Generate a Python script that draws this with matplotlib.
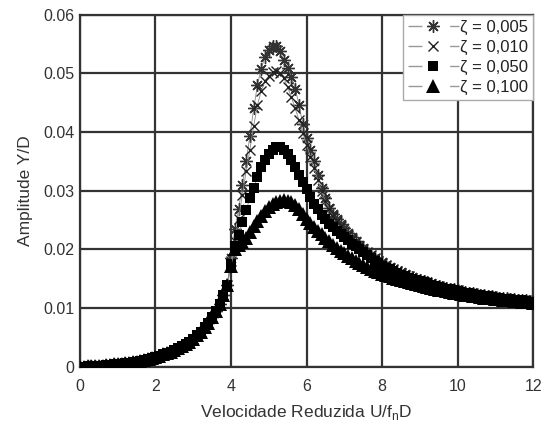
import numpy as np
import matplotlib
matplotlib.use("Agg")
import matplotlib.pyplot as plt
from matplotlib.lines import Line2D

plt.rcParams['font.family'] = ['Liberation Sans', 'DejaVu Sans']

# reduced velocity, sampled every 0.1
u_red = np.round(np.arange(0, 12.01, 0.1), 1)

# common part of all curves, U/fnD = 0.0 ... 3.9
y_low = [0.0000, 0.0000, 0.0001, 0.0001, 0.0001, 0.0002, 0.0002, 0.0003, 0.0003, 0.0004,
         0.0005, 0.0005, 0.0006, 0.0007, 0.0008, 0.0009, 0.0010, 0.0012, 0.0013, 0.0015,
         0.0017, 0.0019, 0.0021, 0.0023, 0.0026, 0.0029, 0.0032, 0.0035, 0.0039, 0.0043,
         0.0048, 0.0054, 0.0060, 0.0067, 0.0075, 0.0085, 0.0095, 0.0107, 0.0122, 0.0140]

# U/fnD = 4.0 ... 12.0
y_005 = [0.0185, 0.0235, 0.0268, 0.0310, 0.0350, 0.0393, 0.0440, 0.0480, 0.0508, 0.0528,
         0.0540, 0.0547, 0.0546, 0.0538, 0.0523, 0.0509, 0.0494, 0.0474, 0.0446, 0.0414,
         0.0390, 0.0370, 0.0350, 0.0327, 0.0305, 0.0287, 0.0270, 0.0260, 0.0252, 0.0244,
         0.0236, 0.0228, 0.0221, 0.0214, 0.0208, 0.0202, 0.0196, 0.0191, 0.0186, 0.0182,
         0.0178, 0.0174, 0.0170, 0.0167, 0.0164, 0.0161, 0.0158, 0.0155, 0.0153, 0.0150,
         0.0148, 0.0146, 0.0144, 0.0142, 0.0140, 0.0138, 0.0136, 0.0135, 0.0133, 0.0132,
         0.0130, 0.0129, 0.0128, 0.0126, 0.0125, 0.0124, 0.0123, 0.0122, 0.0121, 0.0120,
         0.0119, 0.0118, 0.0117, 0.0117, 0.0116, 0.0115, 0.0114, 0.0114, 0.0113, 0.0112,
         0.0112]
y_010 = [0.0180, 0.0215, 0.0252, 0.0293, 0.0333, 0.0370, 0.0410, 0.0446, 0.0470, 0.0486,
         0.0496, 0.0502, 0.0503, 0.0501, 0.0492, 0.0476, 0.0459, 0.0440, 0.0420, 0.0399,
         0.0378, 0.0358, 0.0338, 0.0318, 0.0299, 0.0282, 0.0268, 0.0257, 0.0248, 0.0240,
         0.0232, 0.0225, 0.0218, 0.0212, 0.0206, 0.0200, 0.0195, 0.0190, 0.0185, 0.0181,
         0.0177, 0.0173, 0.0169, 0.0166, 0.0163, 0.0160, 0.0157, 0.0154, 0.0152, 0.0149,
         0.0147, 0.0145, 0.0143, 0.0141, 0.0139, 0.0137, 0.0136, 0.0134, 0.0133, 0.0131,
         0.0130, 0.0128, 0.0127, 0.0126, 0.0125, 0.0124, 0.0123, 0.0122, 0.0121, 0.0120,
         0.0119, 0.0118, 0.0117, 0.0116, 0.0115, 0.0115, 0.0114, 0.0113, 0.0113, 0.0112,
         0.0111]
y_050 = [0.0175, 0.0205, 0.0224, 0.0246, 0.0267, 0.0287, 0.0305, 0.0323, 0.0340, 0.0352,
         0.0362, 0.0369, 0.0374, 0.0375, 0.0370, 0.0362, 0.0352, 0.0340, 0.0327, 0.0315,
         0.0303, 0.0290, 0.0278, 0.0268, 0.0259, 0.0251, 0.0244, 0.0238, 0.0232, 0.0227,
         0.0221, 0.0216, 0.0210, 0.0205, 0.0200, 0.0195, 0.0190, 0.0186, 0.0181, 0.0177,
         0.0172, 0.0169, 0.0166, 0.0163, 0.0160, 0.0157, 0.0155, 0.0152, 0.0150, 0.0148,
         0.0146, 0.0144, 0.0142, 0.0140, 0.0138, 0.0136, 0.0135, 0.0133, 0.0132, 0.0130,
         0.0129, 0.0128, 0.0126, 0.0125, 0.0124, 0.0123, 0.0122, 0.0121, 0.0120, 0.0119,
         0.0118, 0.0117, 0.0116, 0.0116, 0.0115, 0.0114, 0.0113, 0.0113, 0.0112, 0.0111,
         0.0111]
y_100 = [0.0172, 0.0200, 0.0207, 0.0213, 0.0220, 0.0229, 0.0239, 0.0248, 0.0257, 0.0265,
         0.0272, 0.0277, 0.0281, 0.0283, 0.0284, 0.0283, 0.0280, 0.0275, 0.0268, 0.0260,
         0.0252, 0.0245, 0.0238, 0.0232, 0.0226, 0.0220, 0.0214, 0.0208, 0.0203, 0.0198,
         0.0193, 0.0189, 0.0185, 0.0181, 0.0177, 0.0173, 0.0170, 0.0167, 0.0164, 0.0161,
         0.0158, 0.0156, 0.0154, 0.0152, 0.0150, 0.0148, 0.0146, 0.0144, 0.0142, 0.0141,
         0.0139, 0.0137, 0.0136, 0.0134, 0.0133, 0.0131, 0.0130, 0.0129, 0.0127, 0.0126,
         0.0125, 0.0124, 0.0123, 0.0122, 0.0121, 0.0120, 0.0119, 0.0118, 0.0117, 0.0117,
         0.0116, 0.0115, 0.0114, 0.0114, 0.0113, 0.0112, 0.0112, 0.0111, 0.0110, 0.0110,
         0.0109]

labels = ['ζ = 0,005', 'ζ = 0,010', 'ζ = 0,050', 'ζ = 0,100']
x_ticks = [0, 2, 4, 6, 8, 10, 12]
y_ticks = [0, 0.01, 0.02, 0.03, 0.04, 0.05, 0.06]
y_tick_labels = ['0', '0.01', '0.02', '0.03', '0.04', '0.05', '0.06']

marker_styles = [
    dict(marker=(8, 2, 0), ms=9, mew=1.0, mec='#333', mfc='#333'),
    dict(marker='x', ms=7, mew=1.0, mec='#222', mfc='#222'),
    dict(marker='s', ms=7.5, mew=0, mfc='black'),
    dict(marker='^', ms=10, mew=0, mfc='black'),
]

fig = plt.figure(figsize=(5.44, 4.28), dpi=100)
ax = fig.add_axes([0.147, 0.143, 0.833, 0.823])

grid_col = '#333333'
for y_tail, st in zip([y_005, y_010, y_050, y_100], marker_styles):
    y = np.array(y_low + y_tail)
    ax.plot(u_red, y, color='#888888', lw=0.6, ls='-', zorder=3, **st)

ax.set_xlim(0, 12)
ax.set_ylim(0, 0.06)
ax.set_xticks(x_ticks)
ax.set_yticks(y_ticks)
ax.set_yticklabels(y_tick_labels)
ax.tick_params(length=0, labelsize=11.5, colors='#333333')
ax.tick_params(axis='x', pad=9)
ax.tick_params(axis='y', pad=4)
ax.grid(True, color=grid_col, lw=1.6)
for s in ax.spines.values():
    s.set_color(grid_col)
    s.set_linewidth(1.6)

ax.set_xlabel('Velocidade Reduzida U/f$_\\mathregular{n}$D', fontsize=12.5,
              color='#333333', labelpad=6)
ax.set_ylabel('Amplitude Y/D', fontsize=12.5, color='#333333', labelpad=7)

handles = [Line2D([], [], color='#999999', lw=1, ls=(0, (10, 20)), **st)
           for st in marker_styles]
leg = ax.legend(handles, labels, loc='upper right', borderaxespad=0,
                fontsize=12, handlelength=3.1, handletextpad=0.05,
                labelspacing=0.3, borderpad=0.3, fancybox=False,
                framealpha=1, edgecolor='#aaaaaa')
leg.get_frame().set_linewidth(1)
for t in leg.get_texts():
    t.set_color('#222222')

fig.savefig('out.png', dpi=100)
